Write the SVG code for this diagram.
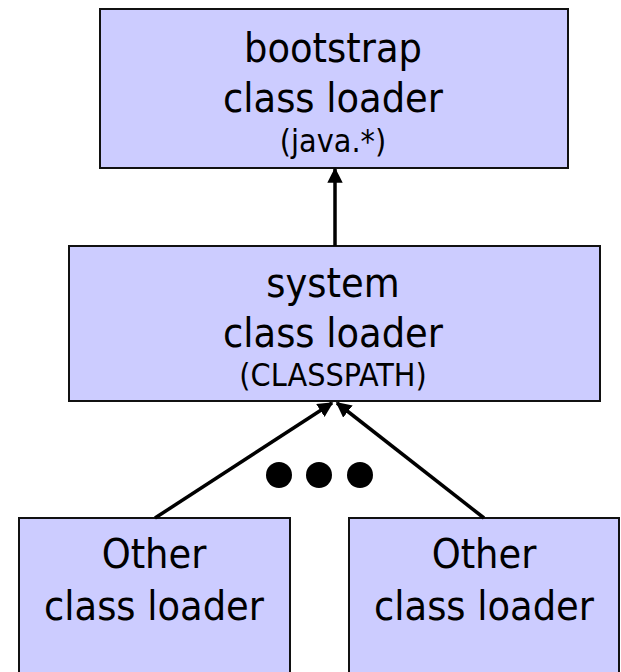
<svg xmlns="http://www.w3.org/2000/svg" width="621" height="672" viewBox="0 0 621 672">
  <style>
    .box { fill: #CCCCFF; stroke: #111111; stroke-width: 2; }
    .t { font-family: "DejaVu Sans Condensed", "DejaVu Sans", sans-serif; fill: #000000; text-anchor: middle; }
    .big { font-size: 41px; }
    .small { font-size: 32px; }
    .edge { stroke: #000000; stroke-width: 3.5; fill: none; marker-end: url(#arrow); }
    .dot { fill: #000000; }
  </style>
  <defs>
    <marker id="arrow" viewBox="0 0 10 10" refX="9" refY="5" markerWidth="4.4" markerHeight="4.4" orient="auto" markerUnits="strokeWidth">
      <path d="M0,0 L10,5 L0,10 z" fill="#000000"/>
    </marker>
  </defs>

  <!-- class loader nodes -->
  <g id="bootstrap">
    <rect class="box" x="100" y="9" width="468" height="159"/>
    <text class="t big" x="333" y="62">bootstrap</text>
    <text class="t big" x="333" y="112">class loader</text>
    <text class="t small" x="333" y="152">(java.*)</text>
  </g>

  <g id="system">
    <rect class="box" x="69" y="246" width="531" height="155"/>
    <text class="t big" x="333" y="297">system</text>
    <text class="t big" x="333" y="347">class loader</text>
    <text class="t small" x="333" y="386">(CLASSPATH)</text>
  </g>

  <g id="other-left">
    <rect class="box" x="19" y="518" width="271" height="170"/>
    <text class="t big" x="154" y="568">Other</text>
    <text class="t big" x="154" y="620">class loader</text>
  </g>

  <g id="other-right">
    <rect class="box" x="349" y="518" width="270" height="170"/>
    <text class="t big" x="484" y="568">Other</text>
    <text class="t big" x="484" y="620">class loader</text>
  </g>

  <!-- ellipsis between the other loaders -->
  <g id="more">
    <circle class="dot" cx="279" cy="475" r="13"/>
    <circle class="dot" cx="319" cy="475" r="13"/>
    <circle class="dot" cx="360" cy="475" r="13"/>
  </g>

  <!-- parent delegation links -->
  <g id="connectors">
    <line class="edge" x1="335" y1="246" x2="335" y2="169"/>
    <line class="edge" x1="155" y1="518" x2="332" y2="403"/>
    <line class="edge" x1="484" y1="518" x2="337" y2="403"/>
  </g>
</svg>
